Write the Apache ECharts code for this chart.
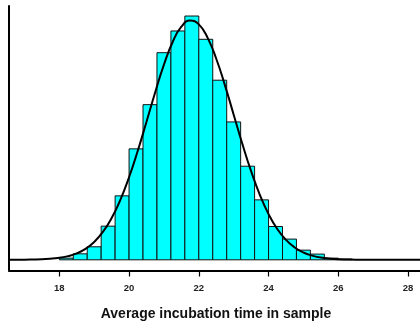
<!DOCTYPE html>
<html>
<head>
<meta charset="utf-8">
<script src="https://cdn.jsdelivr.net/npm/echarts@6/dist/echarts.min.js"></script>
<style>html,body{margin:0;padding:0;background:#fff}#c{width:420px;height:321px}</style>
</head>
<body>
<div id="c"></div>
<script>
// Histogram bins (left edges) of width 0.4 and their densities
var binStarts = [18.0, 18.4, 18.8, 19.2, 19.6, 20.0, 20.4, 20.8, 21.2, 21.6, 22.0, 22.4, 22.8, 23.2, 23.6, 24.0, 24.4, 24.8, 25.2, 25.6, 26.0];
var binWidth = 0.4;
var binDensity = [0.0023, 0.0082, 0.0178, 0.0460, 0.0874, 0.1516, 0.2120, 0.2830, 0.3127, 0.3331, 0.3013, 0.2454, 0.1884, 0.1279, 0.0819, 0.0455, 0.0283, 0.0132, 0.0078, 0.0023, 0.0010];

// Fitted curve, points
var curveX = [16.5, 17.0, 17.5, 18.0, 18.25, 18.5, 18.75, 19.0, 19.25, 19.5, 19.75, 20.0, 20.25, 20.5, 20.75, 21.0, 21.25, 21.5, 21.75, 22.0, 22.25, 22.5, 22.75, 23.0, 23.25, 23.5, 23.75, 24.0, 24.25, 24.5, 24.75, 25.0, 25.25, 25.5, 26.0, 26.5, 27.0, 28.5];
var curveY = [0.0000, 0.0002, 0.0007, 0.0027, 0.0050, 0.0088, 0.0150, 0.0244, 0.0381, 0.0570, 0.0819, 0.1128, 0.1490, 0.1886, 0.2290, 0.2666, 0.2976, 0.3185, 0.3269, 0.3217, 0.3036, 0.2747, 0.2384, 0.1983, 0.1582, 0.1211, 0.0888, 0.0624, 0.0421, 0.0272, 0.0169, 0.0100, 0.0057, 0.0031, 0.0008, 0.0002, 0.0000, 0.0000];

var xTicks = [18, 20, 22, 24, 26, 28];
var xTitle = 'Average incubation time in sample';

var barData = binStarts.map(function (s, i) { return [s, s + binWidth, binDensity[i]]; });
var lineData = curveX.map(function (x, i) { return [x, curveY[i]]; });

var chart = echarts.init(document.getElementById('c'), null, {renderer: 'canvas'});
chart.setOption({
  animation: false,
  backgroundColor: '#ffffff',
  grid: {left: 9, right: 0, top: 6, bottom: 50.5, containLabel: false, outerBoundsMode: 'none'},
  xAxis: {
    type: 'value',
    min: 16.557,
    max: 28.343,
    axisLine: {show: true, onZero: false, lineStyle: {color: '#000', width: 2}},
    axisTick: {show: true, customValues: xTicks, length: 6, lineStyle: {color: '#000', width: 1.2}},
    axisLabel: {show: true, customValues: xTicks, margin: 13, color: '#222', fontSize: 9.5, fontWeight: 'bold', fontFamily: 'Liberation Sans, Arial, sans-serif'},
    splitLine: {show: false},
    name: xTitle,
    nameLocation: 'middle',
    nameGap: 37,
    nameTextStyle: {color: '#111', fontSize: 14, fontWeight: 'bold', fontFamily: 'Liberation Sans, Arial, sans-serif', padding: [0, 0, 0, 3]}
  },
  yAxis: {
    type: 'value',
    min: -0.0146,
    max: 0.3468,
    axisLine: {show: true, lineStyle: {color: '#000', width: 2}},
    axisTick: {show: false},
    axisLabel: {show: false},
    splitLine: {show: false}
  },
  series: [
    {
      type: 'custom',
      data: barData,
      encode: {x: [0, 1], y: 2},
      renderItem: function (params, api) {
        var p0 = api.coord([api.value(0), 0]);
        var p1 = api.coord([api.value(1), api.value(2)]);
        return {
          type: 'rect',
          shape: {x: p0[0], y: p1[1], width: p1[0] - p0[0], height: p0[1] - p1[1]},
          style: {fill: '#00FFFF', stroke: '#111', lineWidth: 1}
        };
      },
      z: 2
    },
    {
      type: 'line',
      data: lineData,
      smooth: true,
      showSymbol: false,
      symbol: 'none',
      lineStyle: {color: '#000', width: 2},
      z: 3
    }
  ]
});
</script>
</body>
</html>
